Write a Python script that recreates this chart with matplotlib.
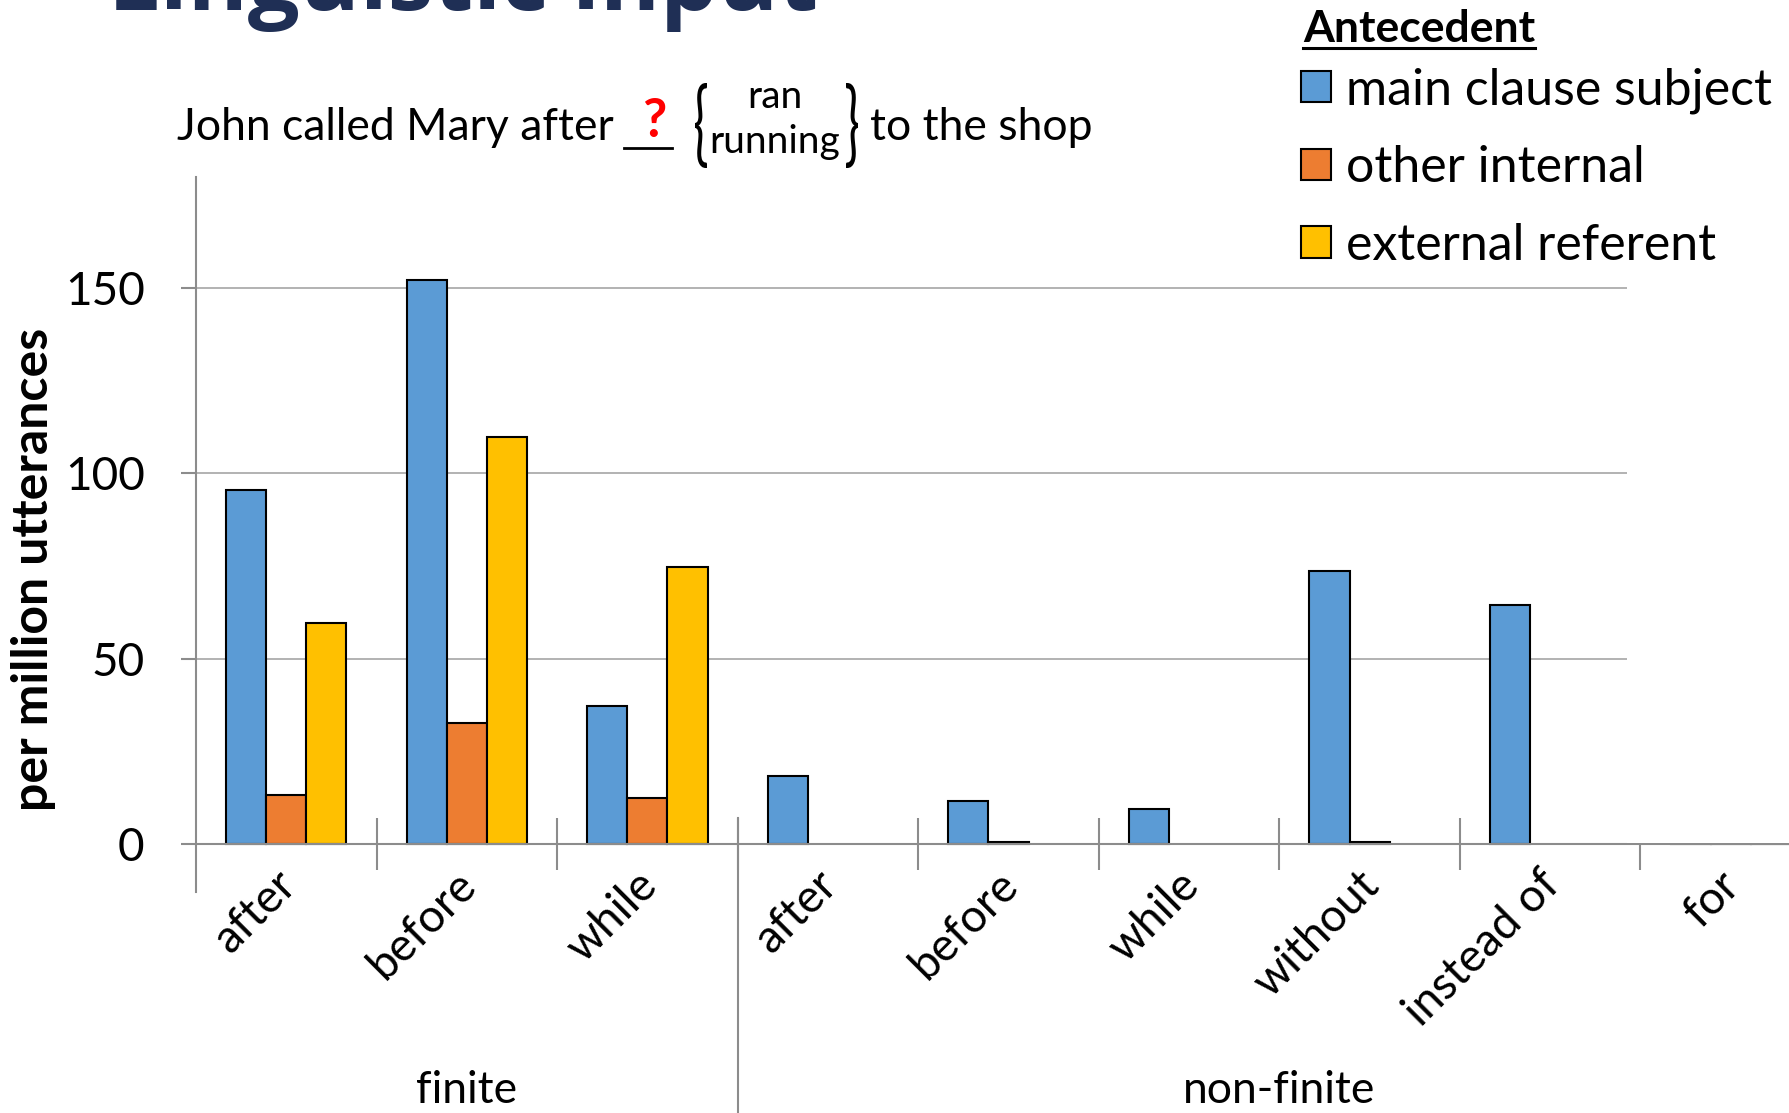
import numpy as np
import matplotlib
matplotlib.use('Agg')
import matplotlib.pyplot as plt
from matplotlib.patches import Rectangle, PathPatch
from matplotlib.lines import Line2D
from matplotlib.textpath import TextPath
from matplotlib.font_manager import FontProperties
from matplotlib.transforms import (Affine2D, ScaledTranslation,
                                   blended_transform_factory)

plt.rcParams['font.family'] = ['Lato', 'DejaVu Sans']

# connective counts per million utterances, by antecedent type
categories = ['after', 'before', 'while', 'after', 'before', 'while',
              'without', 'instead of', 'for']
groups = ['finite', 'non-finite']
group_sizes = [3, 6]
series = ['main clause subject', 'other internal', 'external referent']
main_subject = [95.6, 152.1, 37.3, 18.2, 11.5, 9.5, 73.7, 64.6, 0.2]
other_internal = [13.1, 32.7, 12.4, 0, 0.4, 0, 0.4, 0, 0.2]
external_ref = [59.7, 109.8, 74.6, 0, 0, 0, 0, 0, 0.2]
colors = ['#5B9BD5', '#ED7D31', '#FFC000']
yticks = [0, 50, 100, 150]

W, H = 1790, 1113
axis_grey = '#8C8C8C'


def fx(px):
    return px / W


def fy(py):
    return 1 - py / H


fig = plt.figure(figsize=(W / 100, H / 100), dpi=100)
ax = fig.add_axes([fx(196), fy(892), fx(1821) - fx(196), fy(177) - fy(892)])

x = np.arange(len(categories))
w = 0.222
handles = []
for i, vals in enumerate([main_subject, other_internal, external_ref]):
    bars = ax.bar(x + (i - 1) * w, vals, w, color=colors[i],
                  edgecolor='black', linewidth=1.5, label=series[i])
    for b in bars:
        if b.get_height() == 0:
            b.set_linewidth(0)
    handles.append(bars)

ax.set_xlim(-0.5, len(categories) - 0.5)
ax.set_ylim(-13, 180)
ax.spines['bottom'].set_position(('data', 0))
ax.spines[['top', 'right']].set_visible(False)
for s in ['left', 'bottom']:
    ax.spines[s].set_color(axis_grey)
    ax.spines[s].set_linewidth(1.5)

ax.set_yticks(yticks)
ax.tick_params(axis='y', direction='out', length=11, width=1.5,
               color=axis_grey, pad=26, labelsize=33)
ax.yaxis.grid(True, color='#A6A6A6', linewidth=1.2)
ax.set_axisbelow(True)

ax.set_xticks(x, categories, rotation=45, ha='right',
              rotation_mode='anchor', fontsize=33)
ax.set_xticks(x[:-1] + 0.5, minor=True)
ax.tick_params(axis='x', which='major', length=0, pad=14)
ax.tick_params(axis='x', which='minor', direction='inout', length=37,
               width=1.5, color=axis_grey)
nudge = ScaledTranslation(-0.12, 0, fig.dpi_scale_trans)
for lab in ax.get_xticklabels():
    lab.set_transform(lab.get_transform() + nudge)

ax.set_ylabel('per million utterances', fontsize=36, fontweight='bold',
              va='center')
ax.yaxis.set_label_coords(fx(34), fy(569), transform=fig.transFigure)

# group labels and the finite / non-finite divider
trans = blended_transform_factory(ax.transData, fig.transFigure)
start = 0
for name, n in zip(groups, group_sizes):
    ax.text(start + n / 2 - 0.5, fy(1103), name, transform=trans,
            ha='center', va='baseline', fontsize=32)
    start += n
split = group_sizes[0] - 0.5
fig.add_artist(Line2D([split, split], [fy(818), 0], transform=trans,
                      color=axis_grey, linewidth=1.5))

# white text box of the legend sits over the top right of the plot
fig.add_artist(Rectangle((fx(1627), fy(842.5)), 1, 1,
                         transform=fig.transFigure, facecolor='white',
                         edgecolor='none', zorder=2))

head = fig.text(fx(1303), fy(41.7), 'Antecedent', fontsize=32,
                fontweight='bold', va='baseline', ha='left', zorder=6)
leg = fig.legend(handles, series, loc='upper left',
                 bbox_to_anchor=(fx(1301), fy(67)), frameon=False,
                 fontsize=36, handlelength=0.6, handleheight=0.6,
                 handletextpad=0.31, labelspacing=0.63, borderpad=0,
                 borderaxespad=0)

# title, mostly above the top edge
fig.text(fx(108), fy(10), 'Linguistic input', fontsize=66,
         fontweight='bold', color='#1F2F55', family='Open Sans',
         va='baseline', ha='left')

# example sentence
fig.text(fx(177), fy(140), 'John called Mary after', fontsize=32,
         va='baseline')
fig.add_artist(Line2D([fx(624), fx(672)], [fy(148), fy(148)],
                      transform=fig.transFigure, color='black', linewidth=2))
fig.text(fx(654), fy(137), '?', fontsize=38, fontweight='bold',
         color='#FF0000', ha='center', va='baseline')
fig.text(fx(775), fy(108), 'ran', fontsize=28, ha='center', va='baseline')
fig.text(fx(775), fy(153), 'running', fontsize=28, ha='center',
         va='baseline')
fig.text(fx(870), fy(140), 'to the shop', fontsize=32, va='baseline')


def brace(ch, x0, x1, y0, y1):
    tp = TextPath((0, 0), ch, size=100, prop=FontProperties(family='Lato'))
    e = tp.get_extents()
    t = (Affine2D().translate(-e.x0, -e.y0)
         .scale((x1 - x0) / e.width / W, (y1 - y0) / e.height / H)
         .translate(fx(x0), fy(y1)) + fig.transFigure)
    fig.add_artist(PathPatch(tp, transform=t, facecolor='black',
                             edgecolor='none'))


brace('{', 695, 707, 83, 168)
brace('}', 846, 858, 83, 168)

# underline the legend heading
fig.canvas.draw()
bb = head.get_window_extent()
fig.add_artist(Line2D([bb.x0 / W, bb.x1 / W], [fy(48), fy(48)],
                      transform=fig.transFigure, color='black',
                      linewidth=2.2, zorder=6))

fig.savefig('out.png', dpi=100)
